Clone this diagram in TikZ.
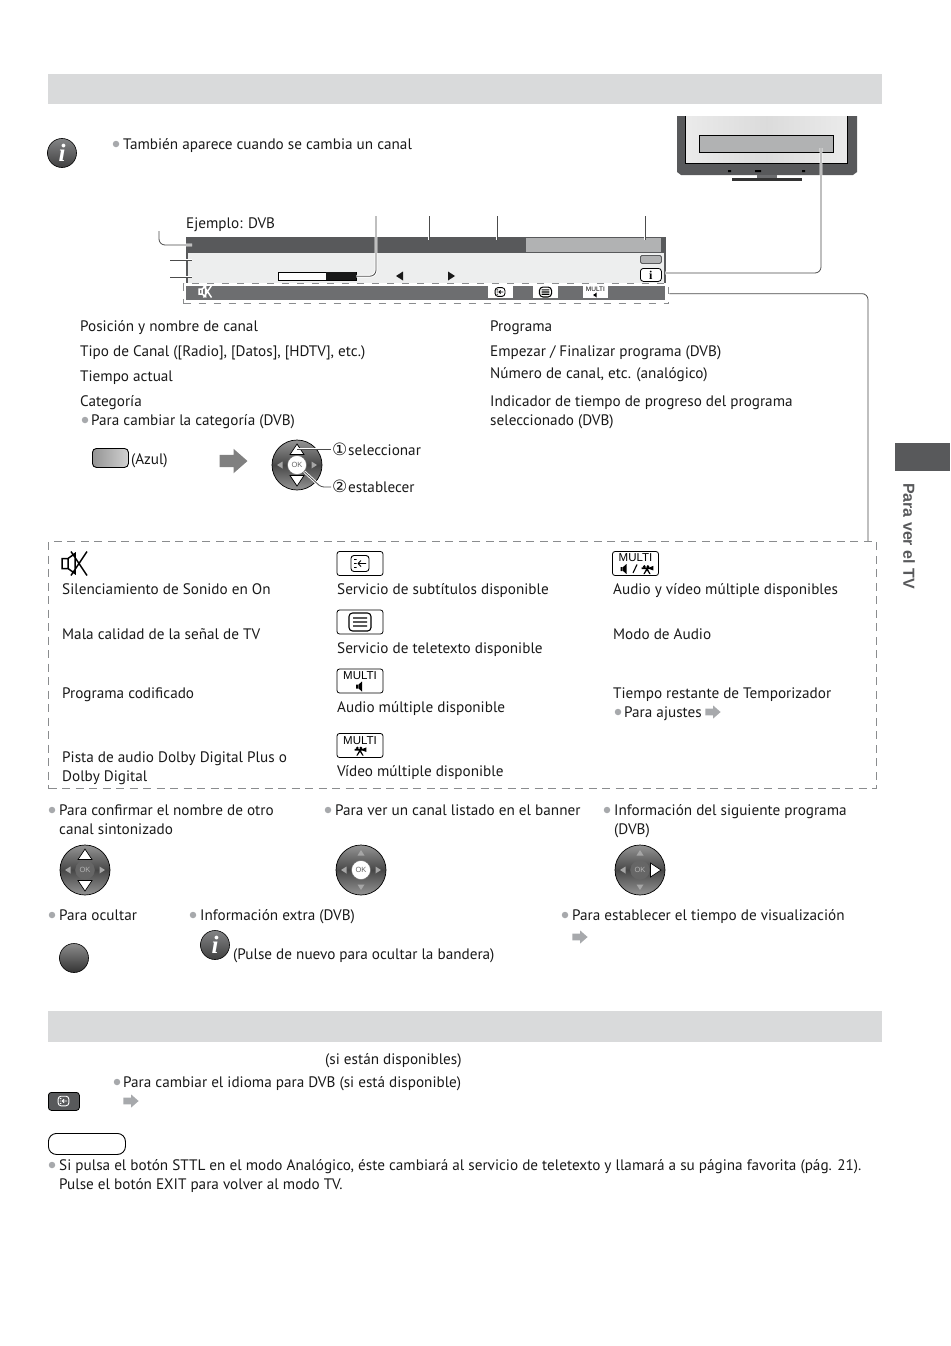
\documentclass[tikz,border=0pt]{standalone}
\usepackage{fontspec}
\setmainfont{PT Sans}
\newfontfamily\circfont{DejaVu Sans}
\newfontfamily\tabfont{Liberation Sans}
\newfontfamily\infofont{Liberation Serif}
\usetikzlibrary{arrows.meta,calc,positioning,shapes.geometric}
\definecolor{headGrey}{HTML}{D9DADB}
\definecolor{darkGrey}{HTML}{58595B}
\definecolor{midGrey}{HTML}{6D6E70}
\definecolor{softGrey}{HTML}{B1B2B3}
\definecolor{paleGrey}{HTML}{EDEEEE}
\definecolor{dotGrey}{HTML}{A7A9AC}
\definecolor{dashGrey}{HTML}{8A8C8E}
\tikzset{
  bodytxt/.style={anchor=base west,inner sep=0pt,align=left,font=\fontsize{15.2}{19}\selectfont,text=black!90},
  bulletdot/.style={circle,fill=dotGrey,inner sep=0pt,minimum size=6.5pt},
  headbar/.style={fill=headGrey,draw=none,minimum width=834pt,minimum height=30pt,inner sep=0pt},
  leader/.style={draw=black!70,line width=.8pt,rounded corners=6pt,preaction={draw=white,line width=2.6pt}},
  dashbox/.style={draw=dashGrey,line width=1.3pt,dash pattern=on 8pt off 5.5pt},
  iconbox/.style={draw=black,line width=.8pt,fill=white,rounded corners=2.5pt,minimum width=46pt,minimum height=24pt,inner sep=0pt},
  statbox/.style={fill=white,minimum width=25pt,minimum height=12pt,inner sep=0pt},
  multitxt/.style={inner sep=0pt,font=\tabfont\fontsize{11.5}{12}\selectfont},
  infobtn/.style={circle,draw=black,line width=.6pt,top color=midGrey!85,bottom color=black!75,minimum size=29pt,inner sep=0pt,text=white,font=\infofont\bfseries\itshape\fontsize{25}{25}\selectfont},
  padbase/.style={circle,draw=black,line width=.7pt,left color=black!42,right color=black!42,middle color=black!72,shading angle=0,minimum size=50pt,inner sep=0pt},
  okbtn/.style={circle,draw=black!60,line width=.4pt,minimum size=19pt,inner sep=0pt,font=\tabfont\fontsize{7.5}{8}\selectfont}
}
% pad arrows
\newcommand\padbig[1]{\fill[white,draw=black,line width=.7pt,rotate=#1] (-7,-10.5) -- (0,-21) -- (7,-10.5) -- cycle;}
\newcommand\padsmall[1]{\fill[black!35,rotate=#1] (-3.5,-14.5) -- (0,-20) -- (3.5,-14.5) -- cycle;}
\newcommand\okpad[6]{%
  \node[padbase] (#1) at (#2) {};
  \begin{scope}[shift={(#2)}]
    #5{0} #5{180} \padsmall{90} #6{-90}
  \end{scope}
  \node[okbtn,fill=#3,text=#4] (#1ok) at (#2) {OK};
}
% small symbols
\newcommand\goarrow[3][dotGrey]{\fill[#1,shift={(#2)},scale=#3] (-8,-3.5) -- (0,-3.5) -- (0,-7) -- (8,0) -- (0,7) -- (0,3.5) -- (-8,3.5) -- cycle;}
\newcommand\spkicon[2]{\fill[shift={(#1)},scale=#2] (-4,-2) rectangle (-2,2) (-1.4,-2) -- (2,-5) -- (2,5) -- (-1.4,2) -- cycle;}
\newcommand\filmicon[2]{\fill[shift={(#1)},scale=#2] (-6,-2.4) -- (3,-2.4) -- (7,-4) -- (7,1) -- (3,-.4) -- (-6,-.4) -- cycle (-1,-.4) -- (-4,5) -- (-2.6,5) -- (0,1) -- (2.6,5) -- (4,5) -- (1,-.4) -- cycle (-3,-3.4) circle[radius=1.6] (1,-3.4) circle[radius=1.6];}
\newcommand\subicon[3]{\draw[shift={(#1)},scale=#2,draw=#3,line width=.9pt,rounded corners=3pt] (-9,-8) rectangle (9,8) (-6,-4) -- (-3.5,-4) (-6,0) -- (-3.5,0) (-6,4) -- (-3.5,4) (-2,0) -- (6,0) (-2,0) -- (1,-3) (-2,0) -- (1,3);}
\newcommand\txticon[3]{\draw[shift={(#1)},scale=#2,draw=#3,line width=1.1pt,rounded corners=3.5pt] (-11,-9) rectangle (11,9) (-7,-4) -- (7,-4) (-7,0) -- (7,0) (-7,4) -- (7,4);}
\newcommand\muteicon[3]{\draw[shift={(#1)},scale=#2,draw=#3,line width=1.5pt] (-14,-5) rectangle (-8,5) (-8,-5) -- (-1,-10) -- (-1,10) -- (-8,5) (-5,-12) -- (11,12) (11,-12) -- (-5,12);}

\begin{document}
\begin{tikzpicture}[x=1pt,y=-1pt]
  \useasboundingbox (0,0) rectangle (950,1346);

  % headers and tab
  \node[headbar,anchor=north west] (headtop) at (48,74) {};
  \node[headbar,anchor=north west,minimum height=31pt] (headsub) at (48,1011) {};
  \node[fill=darkGrey,inner sep=0pt,minimum width=55pt,minimum height=28pt,anchor=north west] (tabbox) at (895,443) {};
  \node[rotate=-90,inner sep=0pt,text=darkGrey,font=\tabfont\bfseries\fontsize{16}{16}\selectfont] (tabtxt) at (909,536) {Para ver el TV};

  % info line
  \node[infobtn] (infotop) at (62,153) {i};
  \node[bulletdot] (dotinfo) at (116,144) {};
  \node[bodytxt] (infotxt) at (123,149) {También aparece cuando se cambia un canal};

  % tv set
  \fill[darkGrey] (677,116) -- (857,116) -- (857,172) -- (853,175) -- (681,175) -- (677,172) -- cycle;
  \node[left color=black!8,right color=black!8,middle color=black!14,minimum width=162pt,minimum height=47pt,inner sep=0pt,anchor=north west] (tvscreen) at (685,116) {};
  \draw[line width=1pt] (tvscreen.north west) |- (tvscreen.south east) -- (tvscreen.north east);
  \node[fill=softGrey,draw=black,line width=.8pt,minimum width=134pt,minimum height=17pt,inner sep=0pt,anchor=north west] (tvbanner) at (699,135) {};
  \node[fill=midGrey,minimum width=20pt,minimum height=3pt,inner sep=0pt,anchor=north west] (tvneck) at (757,175) {};
  \node[fill=black!80,minimum width=70pt,minimum height=3pt,inner sep=0pt,anchor=north west] (tvfoot) at (732,178) {};
  \fill[black] (728,170) rectangle (731,172) (755,170) rectangle (761,172) (802,170) rectangle (805,172);

  % banner
  \node[fill=paleGrey,draw=darkGrey,line width=1.5pt,minimum width=478pt,minimum height=46pt,inner sep=0pt,anchor=north west] (bannerbody) at (186,237) {};
  \node[fill=darkGrey,minimum width=479pt,minimum height=16pt,inner sep=0pt,anchor=north west] (bannertop) at (186,237) {};
  \node[fill=softGrey,minimum width=135pt,minimum height=14pt,inner sep=0pt,anchor=north west] (bannerprog) at (526,238) {};
  \node[bodytxt] (bannerlbl) at (186,228) {Ejemplo: DVB};
  \node[draw=black,fill=white,line width=.6pt,minimum width=78pt,minimum height=8pt,inner sep=0pt,anchor=north west] (progbar) at (278,272) {};
  \node[fill=black!90,minimum width=30pt,minimum height=8pt,inner sep=0pt,anchor=north west] (progfill) at (326,272) {};
  \fill[black!90] (396,276) -- (403,271.5) -- (403,280.5) -- cycle (455,276) -- (448,271.5) -- (448,280.5) -- cycle;
  \node[fill=softGrey,draw=darkGrey,line width=.8pt,rounded corners=1.5pt,minimum width=21pt,minimum height=8pt,inner sep=0pt,anchor=north west] (bannerkey) at (640,255) {};
  \node[fill=white,draw=black,line width=.8pt,rounded corners=3pt,minimum width=21pt,minimum height=13pt,inner sep=0pt,anchor=north west,font=\infofont\bfseries\fontsize{12}{12}\selectfont] (bannerinfo) at (640,268) {i};
  \node[fill=white,minimum width=485pt,minimum height=20pt,inner sep=0pt,anchor=north west] (statusbg) at (183,283) {};
  \node[fill=midGrey,minimum width=479pt,minimum height=14pt,inner sep=0pt,anchor=north west] (statusbar) at (186,286) {};
  \node[dashbox,dash pattern=on 7pt off 8pt,minimum width=485pt,minimum height=20pt,inner sep=0pt,anchor=north west] (statusbox) at (183,283) {};
  \muteicon{206,291.5}{.5}{white}
  \node[statbox] (statsub) at (500,292) {};
  \node[statbox] (stattxt) at (545.5,292) {};
  \node[statbox] (statmul) at (595.5,292) {};
  \subicon{500,292}{.55}{black}
  \txticon{545.5,292}{.55}{black}
  \node[multitxt,font=\tabfont\fontsize{6.5}{7}\selectfont] (statmultxt) at (595.5,289.5) {MULTI};
  \spkicon{595.5,295}{.5}

  % leaders to banner
  \coordinate (tagname) at (159,231);
  \coordinate (tagname2) at (192,245);
  \coordinate (tagtype) at (170,260);
  \coordinate (tagtype2) at (192,260);
  \coordinate (tagtime) at (170,277);
  \coordinate (tagtime2) at (192,277);
  \coordinate (tagbar) at (376,216);
  \coordinate (tagprog) at (429,216);
  \coordinate (tagprog2) at (429,240);
  \coordinate (tagtimes) at (497,216);
  \coordinate (tagtimes2) at (497,240);
  \coordinate (tagind) at (645,216);
  \coordinate (tagind2) at (645,240);
  \coordinate (tagtv) at (821,148);
  \coordinate (tagright) at (665,273);
  \coordinate (taglegend) at (868,541);
  \draw[leader] (tagname) |- (tagname2);
  \draw[leader] (tagtype) -- (tagtype2);
  \draw[leader] (tagtime) -- (tagtime2);
  \draw[leader] (tagbar) |- (progfill.east);
  \draw[leader] (tagprog) -- (tagprog2);
  \draw[leader] (tagtimes) -- (tagtimes2);
  \draw[leader] (tagind) -- (tagind2);
  \draw[leader] (tagtv) |- (tagright);
  \draw[leader] (statusbox.east) -| (taglegend);

  % banner notes
  \node[bodytxt] (noteA) at (80,331) {Posición y nombre de canal};
  \node[bodytxt] (noteB) at (80,356) {Tipo de Canal ([Radio], [Datos], [HDTV], etc.)};
  \node[bodytxt] (noteC) at (80,381) {Tiempo actual};
  \node[bodytxt] (noteD) at (80,406) {Categoría};
  \node[bulletdot] (dotcat) at (85,420) {};
  \node[bodytxt] (noteE) at (91,425) {Para cambiar la categoría (DVB)};
  \node[bodytxt] (noteF) at (490,331) {Programa};
  \node[bodytxt] (noteG) at (490,356) {Empezar / Finalizar programa (DVB)};
  \node[bodytxt] (noteH) at (490,378) {Número de canal, etc. (analógico)};
  \node[bodytxt] (noteI) at (490,425) {Indicador de tiempo de progreso del programa\\seleccionado (DVB)};

  % category keys
  \node[draw=black,line width=.9pt,rounded corners=4pt,left color=black!42,right color=black!18,minimum width=36pt,minimum height=19pt,inner sep=0pt,anchor=north west] (bluekey) at (92,448) {};
  \node[bodytxt] (bluetxt) at (131,464) {(Azul)};
  \goarrow[black!50]{233.5,461}{1.75}
  \okpad{padcat}{297,465}{white}{black!60}{\padbig}{\padsmall}
  \node[bodytxt] (selecttxt) at (332,455) {\makebox[16pt][l]{\circfont\fontsize{17}{17}\selectfont ①}seleccionar};
  \node[bodytxt] (settxt) at (332,492) {\makebox[16pt][l]{\circfont\fontsize{17}{17}\selectfont ②}establecer};
  \coordinate (selectend) at (331,449);
  \coordinate (selectstart) at (297,449);
  \coordinate (setend) at (331,487);
  \coordinate (setbend) at (321,487);
  \draw[leader,rounded corners=2pt] (selectstart) -- (selectend);
  \draw[leader,rounded corners=3pt] (padcatok) -- (setbend) -- (setend);

  % legend box
  \node[dashbox,minimum width=828pt,minimum height=247pt,inner sep=0pt,anchor=north west] (legendbox) at (48,541) {};
  \muteicon{76,563.5}{1}{black}
  \node[bodytxt] (legA) at (62,594) {Silenciamiento de Sonido en On};
  \node[bodytxt] (legB) at (62,639) {Mala calidad de la señal de TV};
  \node[bodytxt] (legC) at (62,698) {Programa codificado};
  \node[bodytxt] (legD) at (62,781) {Pista de audio Dolby Digital Plus o\\Dolby Digital};

  \node[iconbox] (boxsub) at (360,563.5) {};
  \subicon{360,563.5}{1}{black}
  \node[bodytxt] (legE) at (337,594) {Servicio de subtítulos disponible};
  \node[iconbox] (boxtxt) at (360,622) {};
  \txticon{360,622}{1}{black}
  \node[bodytxt] (legF) at (337,653) {Servicio de teletexto disponible};
  \node[iconbox] (boxaud) at (360,681) {};
  \node[multitxt] (boxaudtxt) at (360,676) {MULTI};
  \spkicon{360,686.5}{1}
  \node[bodytxt] (legG) at (337,712) {Audio múltiple disponible};
  \node[iconbox] (boxvid) at (360,745.5) {};
  \node[multitxt] (boxvidtxt) at (360,740.5) {MULTI};
  \filmicon{360,751}{.9}
  \node[bodytxt] (legH) at (337,776) {Vídeo múltiple disponible};

  \node[iconbox] (boxmul) at (635.5,563.5) {};
  \node[multitxt] (boxmultxt) at (635.5,558) {MULTI};
  \spkicon{624.5,569}{1}
  \draw[line width=1.1pt] (637,564.5) -- (633,573);
  \filmicon{647,569.5}{.9}
  \node[bodytxt] (legI) at (613,594) {Audio y vídeo múltiple disponibles};
  \node[bodytxt] (legJ) at (613,639) {Modo de Audio};
  \node[bodytxt] (legK) at (613,698) {Tiempo restante de Temporizador};
  \node[bulletdot] (dottimer) at (618,712) {};
  \node[bodytxt] (legL) at (624,717) {Para ajustes};
  \goarrow{713,712}{.95}

  % lower hints
  \node[bulletdot] (dotA) at (52,810) {};
  \node[bodytxt] (hintA) at (59,834) {Para confirmar el nombre de otro\\canal sintonizado};
  \node[bulletdot] (dotB) at (328,810) {};
  \node[bodytxt] (hintB) at (335,815) {Para ver un canal listado en el banner};
  \node[bulletdot] (dotC) at (607,810) {};
  \node[bodytxt] (hintC) at (614,834) {Información del siguiente programa\\(DVB)};
  \okpad{padname}{85,870}{black!60}{black!30}{\padbig}{\padsmall}
  \okpad{padlist}{361,870}{white}{black!60}{\padsmall}{\padsmall}
  \okpad{padnext}{640,870}{black!60}{black!30}{\padsmall}{\padbig}

  \node[bulletdot] (dotD) at (52,915) {};
  \node[bodytxt] (hintD) at (59,920) {Para ocultar};
  \node[circle,draw=black,line width=.6pt,top color=black!45,bottom color=black!80,minimum size=29pt,inner sep=0pt] (exitkey) at (74,958) {};
  \node[bulletdot] (dotE) at (193,915) {};
  \node[bodytxt] (hintE) at (200,920) {Información extra (DVB)};
  \node[infobtn] (infolow) at (215,945) {i};
  \node[bodytxt] (hintF) at (233,959) {(Pulse de nuevo para ocultar la bandera)};
  \node[bulletdot] (dotG) at (565,915) {};
  \node[bodytxt] (hintG) at (572,920) {Para establecer el tiempo de visualización};
  \goarrow{580,937}{.95}

  % subtitles
  \node[bodytxt] (subA) at (325,1064) {(si están disponibles)};
  \node[bulletdot] (dotH) at (117,1082) {};
  \node[bodytxt] (subB) at (123,1087) {Para cambiar el idioma para DVB (si está disponible)};
  \goarrow{131,1101}{.95}
  \node[draw=black,fill=darkGrey,line width=.8pt,rounded corners=3pt,minimum width=31pt,minimum height=18pt,inner sep=0pt,anchor=north west] (sttlkey) at (48,1092) {};
  \subicon{63.5,1101}{.6}{white}
  \node[draw=black,line width=.9pt,rounded corners=8pt,fill=white,minimum width=77pt,minimum height=21pt,inner sep=0pt,anchor=north west] (notebox) at (48,1133) {};
  \node[bulletdot] (dotI) at (52,1165) {};
  \node[bodytxt] (subC) at (59,1189) {Si pulsa el botón STTL en el modo Analógico, éste cambiará al servicio de teletexto y llamará a su página favorita (pág. 21).\\Pulse el botón EXIT para volver al modo TV.};
\end{tikzpicture}
\end{document}
